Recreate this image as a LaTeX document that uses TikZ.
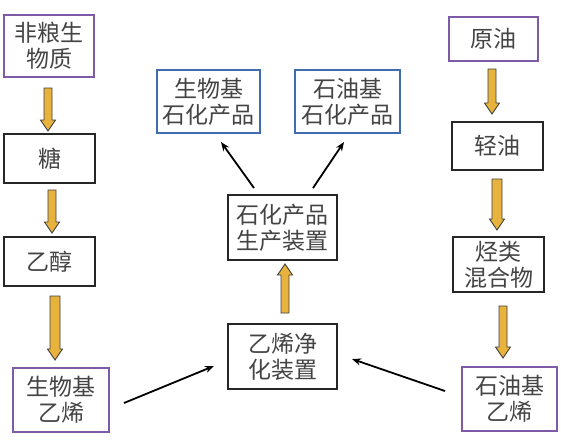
\documentclass[tikz,border=0pt]{standalone}
\usepackage{fontspec}
\setmainfont{Noto Sans CJK SC}
\usetikzlibrary{calc,arrows.meta}
\definecolor{boxpurple}{HTML}{7D5BA6}
\definecolor{boxblue}{HTML}{3F6DB0}
\definecolor{gold}{HTML}{E8B33C}
\definecolor{txt}{HTML}{444444}
\tikzset{
  box/.style={draw=black!85, line width=1.6pt, fill=white, inner sep=0pt,
    align=center, text=txt, font=\fontsize{23}{26}\selectfont},
  pbox/.style={box, draw=boxpurple},
  bbox/.style={box, draw=boxblue},
  goldarr/.style={draw=black!75, line width=0.9pt, fill=gold, line join=miter},
  thinarr/.style={draw=black, line width=1.8pt, -{Stealth[length=9pt,width=7pt]}}
}
\newcommand\goldarrow[3][4]{%
  \path[goldarr] let \p1=(#2), \p2=(#3), \n1={sign(\y1-\y2)} in
   (\x1-#1pt,\y1) -- (\x1+#1pt,\y1) -- (\x1+#1pt,{\y2+(\n1)*11pt})
   -- (\x1+7.5pt,{\y2+(\n1)*11pt}) -- (\x1,\y2) -- (\x1-7.5pt,{\y2+(\n1)*11pt})
   -- (\x1-#1pt,{\y2+(\n1)*11pt}) -- cycle;}
\begin{document}
\begin{tikzpicture}[x=1pt,y=-1pt]
\useasboundingbox[fill=white] (0,0) rectangle (561,439);
% left column
\node[pbox, minimum width=90pt, minimum height=62pt] (fl) at (49,46) {非粮生\\物质};
\node[box, minimum width=91pt, minimum height=49pt] (tang) at (49.5,158.5) {糖};
\node[box, minimum width=91pt, minimum height=49pt] (ychun) at (49.5,261.5) {乙醇};
\node[pbox, minimum width=96pt, minimum height=64pt] (swyx) at (61,400) {生物基\\乙烯};
% middle
\node[bbox, minimum width=103pt, minimum height=63pt] (swcp) at (208.5,101.5) {生物基\\石化产品};
\node[bbox, minimum width=105pt, minimum height=63pt] (sycp) at (347.5,101.5) {石油基\\石化产品};
\node[box, minimum width=109pt, minimum height=65pt] (sczz) at (282.5,227.5) {石化产品\\生产装置};
\node[box, minimum width=109pt, minimum height=65pt] (jhzz) at (282.5,356.5) {乙烯净\\化装置};
% right column
\node[pbox, minimum width=89pt, minimum height=44pt] (yy) at (493.5,39) {原油};
\node[box, minimum width=91pt, minimum height=48pt] (qy) at (497.5,146) {轻油};
\node[box, minimum width=91pt, minimum height=55pt] (tl) at (498.5,264.5) {烃类\\混合物};
\node[pbox, minimum width=95pt, minimum height=64pt] (syyx) at (509.5,399) {石油基\\乙烯};
% gold arrow ends
\coordinate (a1s) at (48,88);  \coordinate (a1e) at (48,131);
\coordinate (a2s) at (52,190); \coordinate (a2e) at (52,233);
\coordinate (a3s) at (55,296); \coordinate (a3e) at (55,360);
\coordinate (a4s) at (285,313); \coordinate (a4e) at (285,264);
\coordinate (a5s) at (492,69); \coordinate (a5e) at (492,114);
\coordinate (a6s) at (497,179); \coordinate (a6e) at (497,230);
\coordinate (a7s) at (503,306); \coordinate (a7e) at (503,358);
\goldarrow{a1s}{a1e}
\goldarrow{a2s}{a2e}
\goldarrow[5]{a3s}{a3e}
\goldarrow{a4s}{a4e}
\goldarrow{a5s}{a5e}
\goldarrow[5]{a6s}{a6e}
\goldarrow{a7s}{a7e}
% thin arrows
\coordinate (b1s) at (124,403); \coordinate (b1e) at (214,366);
\coordinate (b2s) at (445,391); \coordinate (b2e) at (352,359);
\coordinate (b3s) at (254,188); \coordinate (b3e) at (221,142);
\coordinate (b4s) at (313,188); \coordinate (b4e) at (344,142);
\draw[thinarr] (b1s) -- (b1e);
\draw[thinarr] (b2s) -- (b2e);
\draw[thinarr] (b3s) -- (b3e);
\draw[thinarr] (b4s) -- (b4e);
\end{tikzpicture}
\end{document}
